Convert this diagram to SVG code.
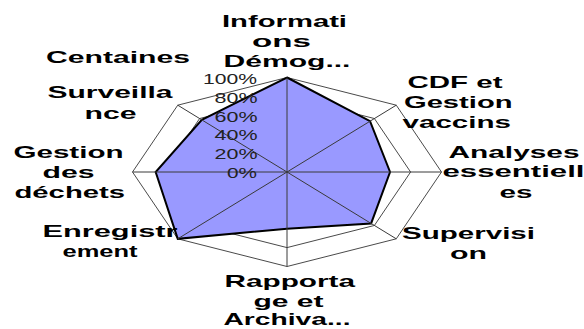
<svg xmlns="http://www.w3.org/2000/svg" width="584" height="329" viewBox="0 0 584 329">
<style>
.ring{fill:none;stroke:#4a4a4a;stroke-width:1}
.spoke{stroke:#3a3a3a;stroke-width:1}
.data{fill:#9999FF;stroke:#000;stroke-width:2;stroke-linejoin:miter}
.lbl{font-family:"Liberation Sans",Arial,sans-serif;font-weight:bold;font-size:17px;fill:#000}
.tick{font-family:"Liberation Sans",Arial,sans-serif;font-size:15px;fill:#222}
</style>
<rect width="584" height="329" fill="#fff"/>
<g id="grid">
<polygon class="ring" points="287,77.5 396.25,105.18 441.5,172 396.25,238.82 287,266.5 177.75,238.82 132.5,172 177.75,105.18"/>
<polygon class="ring" points="287,96.4 374.4,118.54 410.6,172 374.4,225.46 287,247.6 199.6,225.46 163.4,172 199.6,118.54"/>
</g>
<g id="series">
<polygon class="data" points="287,77.5 370.03,121.22 390.05,172 371.12,223.45 287,228.7 177.75,238.82 155.67,172 201.8,119.88"/>
</g>
<g id="connectors">
<line class="spoke" x1="287" y1="172" x2="287" y2="77.5"/>
<line class="spoke" x1="287" y1="172" x2="396.25" y2="105.18"/>
<line class="spoke" x1="287" y1="172" x2="441.5" y2="172"/>
<line class="spoke" x1="287" y1="172" x2="396.25" y2="238.82"/>
<line class="spoke" x1="287" y1="172" x2="287" y2="266.5"/>
<line class="spoke" x1="287" y1="172" x2="177.75" y2="238.82"/>
<line class="spoke" x1="287" y1="172" x2="132.5" y2="172"/>
<line class="spoke" x1="287" y1="172" x2="177.75" y2="105.18"/>
</g>
<g id="ticks">
<text class="tick" x="203" y="84" textLength="54" lengthAdjust="spacingAndGlyphs">100%</text>
<text class="tick" x="214.5" y="102.8" textLength="43" lengthAdjust="spacingAndGlyphs">80%</text>
<text class="tick" x="214.5" y="121.6" textLength="43" lengthAdjust="spacingAndGlyphs">60%</text>
<text class="tick" x="214.5" y="140.4" textLength="43" lengthAdjust="spacingAndGlyphs">40%</text>
<text class="tick" x="214.5" y="159.2" textLength="43" lengthAdjust="spacingAndGlyphs">20%</text>
<text class="tick" x="227" y="178" textLength="30" lengthAdjust="spacingAndGlyphs">0%</text>
</g>
<g id="label-informations">
<text class="lbl" x="222" y="27.3" textLength="125" lengthAdjust="spacingAndGlyphs">Informati</text>
<text class="lbl" x="252" y="46.7" textLength="59" lengthAdjust="spacingAndGlyphs">ons</text>
<text class="lbl" x="223.5" y="66.7" textLength="127" lengthAdjust="spacingAndGlyphs">Démog...</text>
</g>
<g id="label-cdf">
<text class="lbl" x="407.5" y="88.3" textLength="95" lengthAdjust="spacingAndGlyphs">CDF et</text>
<text class="lbl" x="404" y="108.3" textLength="108.5" lengthAdjust="spacingAndGlyphs">Gestion</text>
<text class="lbl" x="402.5" y="128.3" textLength="108.5" lengthAdjust="spacingAndGlyphs">vaccins</text>
</g>
<g id="label-analyses">
<text class="lbl" x="448.5" y="158.3" textLength="131" lengthAdjust="spacingAndGlyphs">Analyses</text>
<text class="lbl" x="442.5" y="176.7" textLength="142" lengthAdjust="spacingAndGlyphs">essentiell</text>
<text class="lbl" x="499.5" y="198.3" textLength="33" lengthAdjust="spacingAndGlyphs">es</text>
</g>
<g id="label-supervision">
<text class="lbl" x="402" y="239.3" textLength="133" lengthAdjust="spacingAndGlyphs">Supervisi</text>
<text class="lbl" x="450" y="259.3" textLength="37" lengthAdjust="spacingAndGlyphs">on</text>
</g>
<g id="label-rapportage">
<text class="lbl" x="224.5" y="287.3" textLength="130.5" lengthAdjust="spacingAndGlyphs">Rapporta</text>
<text class="lbl" x="253.5" y="306.7" textLength="70" lengthAdjust="spacingAndGlyphs">ge et</text>
<text class="lbl" x="223.5" y="325" textLength="127" lengthAdjust="spacingAndGlyphs">Archiva...</text>
</g>
<g id="label-enregistrement">
<text class="lbl" x="42.5" y="237.3" textLength="135" lengthAdjust="spacingAndGlyphs">Enregistr</text>
<text class="lbl" x="62.5" y="256.7" textLength="75" lengthAdjust="spacingAndGlyphs">ement</text>
</g>
<g id="label-gestion">
<text class="lbl" x="13.5" y="158.3" textLength="110" lengthAdjust="spacingAndGlyphs">Gestion</text>
<text class="lbl" x="42.5" y="177.5" textLength="52" lengthAdjust="spacingAndGlyphs">des</text>
<text class="lbl" x="14.5" y="198.3" textLength="110.5" lengthAdjust="spacingAndGlyphs">déchets</text>
</g>
<g id="label-surveillance">
<text class="lbl" x="47.5" y="98.3" textLength="125" lengthAdjust="spacingAndGlyphs">Surveilla</text>
<text class="lbl" x="84.5" y="119.3" textLength="52" lengthAdjust="spacingAndGlyphs">nce</text>
</g>
<g id="label-centaines">
<text class="lbl" x="46" y="63.3" textLength="144" lengthAdjust="spacingAndGlyphs">Centaines</text>
</g>
</svg>
